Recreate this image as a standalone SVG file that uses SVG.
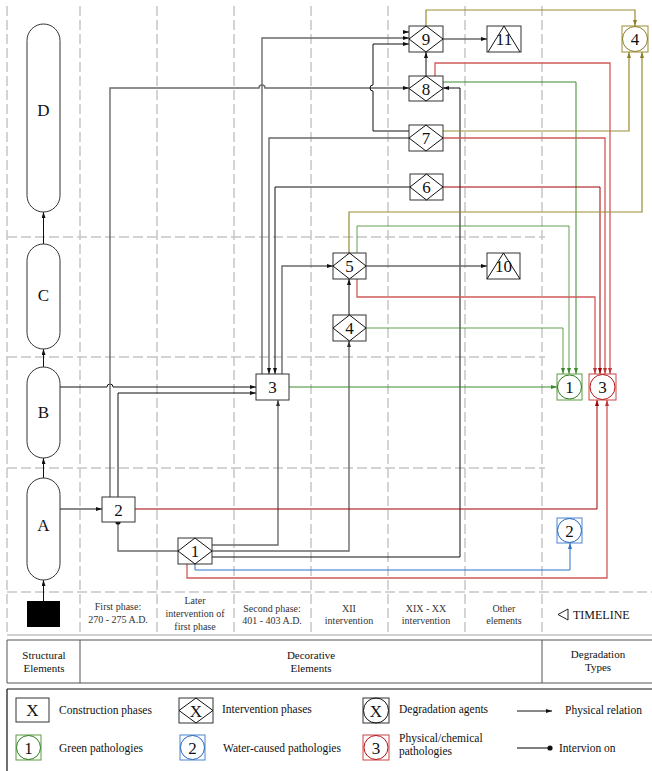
<svg xmlns="http://www.w3.org/2000/svg" width="652" height="771" viewBox="0 0 652 771">
<style>
text{font-family:"Liberation Serif","Times New Roman",serif;fill:#111}
.num{font-size:17px;text-anchor:middle}
.lbl{font-size:10px;text-anchor:middle;fill:#333}
.lg{font-size:11.5px}
.grid{stroke:#c6c6c6;stroke-width:1.5;stroke-dasharray:10 4;fill:none}
.box{fill:#fff;stroke:#333;stroke-width:1}
.c{fill:none;stroke-width:1}
.k{stroke:#111}
.g{stroke:#6a6a6a;stroke-width:1.4}
.gr{stroke:#3d8a2a}
.rd{stroke:#cf5a5a;stroke-width:1.3}
.dr{stroke:#a00000}
.bl{stroke:#2f74c8}
.ol{stroke:#9a8d35;stroke-width:1.2}
</style>
<defs>
<marker id="ak" viewBox="0 0 6 4" refX="6" refY="2" markerWidth="6" markerHeight="4" markerUnits="userSpaceOnUse" orient="auto"><path d="M0,0L6,2L0,4z" fill="#111"/></marker>
<marker id="ag" viewBox="0 0 6 4" refX="6" refY="2" markerWidth="6" markerHeight="4" markerUnits="userSpaceOnUse" orient="auto"><path d="M0,0L6,2L0,4z" fill="#333"/></marker>
<marker id="agr" viewBox="0 0 6 4" refX="6" refY="2" markerWidth="6" markerHeight="4" markerUnits="userSpaceOnUse" orient="auto"><path d="M0,0L6,2L0,4z" fill="#3d8a2a"/></marker>
<marker id="ard" viewBox="0 0 6 4" refX="6" refY="2" markerWidth="6" markerHeight="4" markerUnits="userSpaceOnUse" orient="auto"><path d="M0,0L6,2L0,4z" fill="#c03535"/></marker>
<marker id="adr" viewBox="0 0 6 4" refX="6" refY="2" markerWidth="6" markerHeight="4" markerUnits="userSpaceOnUse" orient="auto"><path d="M0,0L6,2L0,4z" fill="#a00000"/></marker>
<marker id="abl" viewBox="0 0 6 4" refX="6" refY="2" markerWidth="6" markerHeight="4" markerUnits="userSpaceOnUse" orient="auto"><path d="M0,0L6,2L0,4z" fill="#2f74c8"/></marker>
<marker id="aol" viewBox="0 0 6 4" refX="6" refY="2" markerWidth="6" markerHeight="4" markerUnits="userSpaceOnUse" orient="auto"><path d="M0,0L6,2L0,4z" fill="#8a7d25"/></marker>
<marker id="dot" viewBox="0 0 6 6" refX="3" refY="3" markerWidth="6" markerHeight="6" markerUnits="userSpaceOnUse"><circle cx="3" cy="3" r="2.6" fill="#111"/></marker>
</defs>
<rect width="652" height="771" fill="#fff"/>

<g id="grid">
<path class="grid" d="M7,6V635M80,6V635M157,6V635M234,6V635M311,6V635M388,6V635M465,6V635M542,6V635"/>
<path class="grid" d="M7,237H545M7,357H545M7,468H545M7,592H652"/>
<path d="M7,635H652" stroke="#c0c0c0" stroke-width="1.5"/>
</g>

<g id="connectors">
<path class="c k" d="M43.5,244V212" marker-end="url(#ak)"/>
<path class="c k" d="M43.5,367V349" marker-end="url(#ak)"/>
<path class="c k" d="M43.5,478V458" marker-end="url(#ak)"/>
<path class="c k" d="M43.5,601V580" marker-end="url(#ak)"/>
<path class="c k" d="M60,509H102" marker-end="url(#ak)"/>
<path class="c k" d="M60,387H107a3,3 0 0 1 6,0H256" marker-end="url(#ak)"/>
<path class="c k" d="M118,497V393H256" marker-end="url(#ak)"/>
<path class="c g" d="M110,497V88H259a3,3 0 0 1 6,0H409" marker-end="url(#ak)"/>
<path class="c g" d="M178,551H118V522" marker-end="url(#dot)"/>
<path class="c g" d="M212,545H278V400" marker-end="url(#ag)"/>
<path class="c g" d="M212,551H349V341" marker-end="url(#ag)"/>
<path class="c k" d="M212,557H460V88H443" marker-end="url(#ak)"/>
<path class="c k" d="M426,76V52" marker-end="url(#ak)"/>
<path class="c g" d="M443,39H487" marker-end="url(#ak)"/>
<path class="c g" d="M262,374V38H409" marker-end="url(#ak)"/>
<path class="c k" d="M409,131H373V91a3,3 0 0 1 0,-6V44H409" marker-end="url(#ak)"/>
<path class="c k" d="M403,32H409" marker-end="url(#ak)"/>
<path class="c g" d="M409,138H269V374" marker-end="url(#ak)"/>
<path class="c k" d="M410,187H275V374" marker-end="url(#ak)"/>
<path class="c g" d="M282,374V266H333" marker-end="url(#ak)"/>
<path class="c k" d="M349,315V279" marker-end="url(#ak)"/>
<path class="c g" d="M366,266H487" marker-end="url(#ak)"/>

<path class="c gr" d="M289,387H557" marker-end="url(#agr)"/>
<path class="c gr" d="M366,328H563V374" marker-end="url(#agr)" stroke-opacity="0.8"/>
<path class="c gr" d="M357,253V226H569V374" marker-end="url(#agr)" stroke-opacity="0.8"/>
<path class="c gr" d="M443,82H576V374" marker-end="url(#agr)"/>

<path class="c dr" d="M135,509H597V400" marker-end="url(#adr)"/>
<path class="c rd" d="M187,564V578H607V400" marker-end="url(#ard)"/>
<path class="c rd" d="M435,76V63H610V374" marker-end="url(#ard)"/>
<path class="c rd" d="M443,138H605V374" marker-end="url(#ard)"/>
<path class="c dr" d="M443,187H600V374" marker-end="url(#adr)"/>
<path class="c rd" d="M357,279V297H595V374" marker-end="url(#ard)"/>

<path class="c bl" d="M195,564V570H570V543" marker-end="url(#abl)"/>

<path class="c ol" d="M426,26V10H635V26" marker-end="url(#aol)"/>
<path class="c ol" d="M443,131H629V52" marker-end="url(#aol)"/>
<path class="c ol" d="M349,253V212H642V52" marker-end="url(#aol)"/>
</g>

<g id="D"><rect x="27" y="24" width="33" height="188" rx="16.5" class="box"/><text class="num" x="43.5" y="116">D</text></g>
<g id="C"><rect x="27" y="244" width="33" height="105" rx="16.5" class="box"/><text class="num" x="43.5" y="301">C</text></g>
<g id="B"><rect x="27" y="367" width="33" height="91" rx="16.5" class="box"/><text class="num" x="43.5" y="418">B</text></g>
<g id="A"><rect x="27" y="478" width="33" height="102" rx="16.5" class="box"/><text class="num" x="43.5" y="531">A</text></g>
<g id="base"><rect x="27" y="601" width="33" height="26" fill="#000"/></g>

<g id="n2"><rect x="102" y="497" width="33" height="25" class="box"/><text class="num" x="118.5" y="515.5">2</text></g>
<g id="n3"><rect x="256" y="374" width="33" height="26" class="box"/><text class="num" x="272.5" y="393">3</text></g>

<g id="i1"><rect x="178" y="538" width="34" height="26" class="box"/><path d="M178,551L195,538L212,551L195,564z" fill="none" stroke="#111"/><text class="num" x="195" y="557">1</text></g>
<g id="i4"><rect x="333" y="315" width="33" height="26" class="box"/><path d="M333,328L349.5,315L366,328L349.5,341z" fill="none" stroke="#111"/><text class="num" x="349.5" y="334">4</text></g>
<g id="i5"><rect x="333" y="253" width="33" height="26" class="box"/><path d="M333,266L349.5,253L366,266L349.5,279z" fill="none" stroke="#111"/><text class="num" x="349.5" y="272">5</text></g>
<g id="i6"><rect x="410" y="174" width="33" height="26" class="box"/><path d="M410,187L426.5,174L443,187L426.5,200z" fill="none" stroke="#111"/><text class="num" x="426.5" y="193">6</text></g>
<g id="i7"><rect x="409" y="125" width="34" height="26" class="box"/><path d="M409,138L426,125L443,138L426,151z" fill="none" stroke="#111"/><text class="num" x="426" y="144">7</text></g>
<g id="i8"><rect x="409" y="76" width="34" height="25" class="box"/><path d="M409,88.5L426,76L443,88.5L426,101z" fill="none" stroke="#111"/><text class="num" x="426" y="94.5">8</text></g>
<g id="i9"><rect x="409" y="26" width="34" height="26" class="box"/><path d="M409,39L426,26L443,39L426,52z" fill="none" stroke="#111"/><text class="num" x="426" y="45">9</text></g>

<g id="t10"><rect x="487" y="253" width="33" height="26" class="box"/><path d="M487,279L503.5,253L520,279" fill="none" stroke="#111"/><text class="num" x="503.5" y="272">10</text></g>
<g id="t11"><rect x="487" y="26" width="34" height="26" class="box"/><path d="M488,52L504,26L520,52" fill="none" stroke="#111"/><text class="num" x="504" y="45">11</text></g>

<g id="d1"><rect x="557" y="374" width="25" height="26" fill="#fff" stroke="#5c9c45"/><circle cx="569.5" cy="387" r="12" fill="none" stroke="#2e7d1c"/><text class="num" x="569.5" y="393">1</text></g>
<g id="d3"><rect x="589" y="374" width="27" height="26" fill="#fff" stroke="#c84545"/><circle cx="602.5" cy="387" r="12.5" fill="none" stroke="#b01515"/><text class="num" x="602.5" y="393">3</text></g>
<g id="d2"><rect x="557" y="518" width="25" height="25" fill="#fff" stroke="#4a86d0"/><circle cx="569.5" cy="530.5" r="12" fill="none" stroke="#2566b8"/><text class="num" x="569.5" y="536.5">2</text></g>
<g id="d4"><rect x="622" y="26" width="26" height="26" fill="#fff" stroke="#9a8d35"/><circle cx="635" cy="39" r="12.5" fill="none" stroke="#8a7d25"/><text class="num" x="635" y="45">4</text></g>

<g id="timeline">
<text class="lbl" x="118" y="610">First phase:</text><text class="lbl" x="118" y="623">270 - 275 A.D.</text>
<text class="lbl" x="195" y="604">Later</text><text class="lbl" x="195" y="617">intervention of</text><text class="lbl" x="195" y="630">first phase</text>
<text class="lbl" x="272" y="612">Second phase:</text><text class="lbl" x="272" y="624">401 - 403 A.D.</text>
<text class="lbl" x="349" y="612">XII</text><text class="lbl" x="349" y="624">intervention</text>
<text class="lbl" x="426" y="612">XIX - XX</text><text class="lbl" x="426" y="624">intervention</text>
<text class="lbl" x="504" y="612">Other</text><text class="lbl" x="504" y="624">elements</text>
<path d="M568,609L558,614.5L568,620z" fill="none" stroke="#222"/>
<text x="573" y="619" style="font-size:12px">TIMELINE</text>
</g>

<g id="header">
<path d="M7,640H652M7,683H652M7,640V683M80,640V683M542,640V683" fill="none" stroke="#555" stroke-width="1"/>
<text class="lbl" x="44" y="659" style="font-size:11px;fill:#111">Structural</text>
<text class="lbl" x="44" y="672" style="font-size:11px;fill:#111">Elements</text>
<text class="lbl" x="311" y="659" style="font-size:11px;fill:#111">Decorative</text>
<text class="lbl" x="311" y="672" style="font-size:11px;fill:#111">Elements</text>
<text class="lbl" x="598" y="658" style="font-size:11px;fill:#111">Degradation</text>
<text class="lbl" x="598" y="671" style="font-size:11px;fill:#111">Types</text>
</g>

<g id="legend">
<path d="M7,689H652M7,689V771" fill="none" stroke="#111" stroke-width="1.2"/>
<rect x="16" y="698" width="33" height="24" class="box"/><text class="num" x="32.5" y="716">X</text>
<text class="lg" x="59" y="714">Construction phases</text>
<rect x="179" y="698" width="34" height="25" class="box"/><path d="M179,710.5L196,698L213,710.5L196,723z" fill="none" stroke="#111"/><text class="num" x="196" y="716.5">X</text>
<text class="lg" x="222" y="713">Intervention phases</text>
<rect x="363" y="698" width="26" height="25" class="box"/><circle cx="376" cy="710.5" r="12.5" fill="none" stroke="#111"/><text class="num" x="376" y="716.5">X</text>
<text class="lg" x="399" y="713">Degradation agents</text>
<path d="M517,711H552" fill="none" stroke="#111" marker-end="url(#ak)"/>
<text class="lg" x="565" y="714">Physical relation</text>
<rect x="16" y="735" width="25" height="25" fill="#fff" stroke="#5c9c45"/><circle cx="28.5" cy="747.5" r="12" fill="none" stroke="#2e7d1c"/><text class="num" x="28.5" y="753.5">1</text>
<text class="lg" x="59" y="752">Green pathologies</text>
<rect x="180" y="735" width="25" height="25" fill="#fff" stroke="#4a86d0"/><circle cx="192.5" cy="747.5" r="12" fill="none" stroke="#2566b8"/><text class="num" x="192.5" y="753.5">2</text>
<text class="lg" x="223" y="752">Water-caused pathologies</text>
<rect x="363" y="735" width="26" height="25" fill="#fff" stroke="#c84545"/><circle cx="376" cy="747.5" r="12" fill="none" stroke="#b01515"/><text class="num" x="376" y="753.5">3</text>
<text class="lg" x="399" y="742">Physical/chemical</text>
<text class="lg" x="399" y="755">pathologies</text>
<path d="M517,748H550" fill="none" stroke="#555" stroke-width="1.5" marker-end="url(#dot)"/>
<text class="lg" x="559" y="752">Intervion on</text>
</g>
</svg>
